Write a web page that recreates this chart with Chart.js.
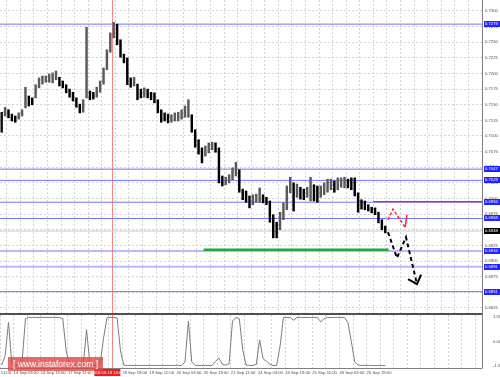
<!DOCTYPE html>
<html><head><meta charset="utf-8">
<script src="https://cdn.jsdelivr.net/npm/chart.js@4"></script>
<style>
html,body{margin:0;padding:0;background:#fff;}
#wrap{position:relative;width:500px;height:377px;overflow:hidden;background:#fff;}
#c1{position:absolute;left:0;top:0;}
#c2{position:absolute;left:0;top:313px;}
#wm{position:absolute;left:8px;top:357px;width:95px;height:14px;background:rgba(222,70,70,0.8);color:#fff;font:8.5px "Liberation Sans",Arial,sans-serif;line-height:14px;text-align:center;white-space:nowrap;}
</style></head>
<body><div id="wrap">
<canvas id="c1" width="500" height="313"></canvas>
<canvas id="c2" width="500" height="64"></canvas>
<div id="wm">[ www.instaforex.com ]</div>
</div>
<script>
// ---- data (2-hour buckets, hour index from chart start) ----
const highs = [0.7138,0.7146,0.7142,0.7135,0.7132,0.7137,0.7142,0.7178,0.7164,0.7161,
0.7182,0.7193,0.7196,0.7196,0.7199,0.7201,0.7204,0.7194,0.7188,0.7182,
0.7175,0.7170,0.7161,0.7151,0.7158,0.7274,0.7172,0.7170,0.7178,0.7188,
0.7209,0.7238,0.7265,0.7282,0.7279,0.7254,0.7231,0.7225,0.7193,0.7194,
0.7183,0.7175,0.7177,0.7175,0.7170,0.7169,0.7158,0.7142,0.7137,0.7135,
0.7134,0.7137,0.7138,0.7142,0.7148,0.7158,0.7134,0.7110,0.7094,0.7081,
0.7084,0.7089,0.7090,0.7089,0.7081,0.7036,0.7034,0.7038,0.7049,0.7058,
0.7046,0.7015,0.7012,0.7004,0.7006,0.7007,0.7017,0.7006,0.7002,0.6996,
0.6974,0.6962,0.6978,0.6993,0.7020,0.7034,0.7025,0.7023,0.7018,0.7015,
0.7018,0.7034,0.7022,0.7020,0.7020,0.7025,0.7031,0.7031,0.7028,0.7033,
0.7033,0.7034,0.7031,0.7033,0.7033,0.7009,0.6998,0.6996,0.6990,0.6986,
0.6985,0.6978,0.6966,0.6956];
const lows = [0.7106,0.7132,0.7129,0.7124,0.7122,0.7127,0.7132,0.7145,0.7148,0.7150,
0.7161,0.7177,0.7183,0.7186,0.7186,0.7185,0.7190,0.7180,0.7177,0.7169,
0.7162,0.7156,0.7146,0.7137,0.7138,0.7161,0.7158,0.7159,0.7162,0.7170,
0.7183,0.7206,0.7234,0.7257,0.7246,0.7226,0.7217,0.7182,0.7178,0.7180,
0.7158,0.7161,0.7162,0.7161,0.7158,0.7153,0.7137,0.7122,0.7124,0.7121,
0.7122,0.7124,0.7124,0.7127,0.7130,0.7130,0.7106,0.7082,0.7071,0.7057,
0.7068,0.7073,0.7078,0.7074,0.7025,0.7020,0.7022,0.7025,0.7030,0.7036,
0.7010,0.6998,0.6994,0.6985,0.6990,0.6994,0.6994,0.6993,0.6990,0.6962,
0.6937,0.6937,0.6950,0.6966,0.6982,0.7009,0.6980,0.7002,0.6999,0.6998,
0.7002,0.6996,0.6996,0.6994,0.7002,0.7006,0.7010,0.7014,0.7010,0.7014,
0.7018,0.7017,0.7017,0.7014,0.7004,0.6978,0.6983,0.6982,0.6980,0.6977,
0.6974,0.6961,0.6950,0.6945];
const osc = [-1.50,-0.90,1.22,-1.45,-1.52,-1.52,-1.30,1.45,1.53,1.53,
1.53,1.52,1.53,1.53,1.52,1.53,1.53,1.52,1.45,-0.60,
-1.50,-1.52,-1.52,-1.52,-1.52,0.75,-1.45,-1.52,-1.52,-1.45,
0.20,1.50,1.53,1.53,1.50,-0.60,-1.50,-1.52,-1.52,-1.52,
-1.52,-1.52,-1.52,-1.52,-1.52,-1.52,-1.52,-1.52,-1.52,-1.52,
-1.52,-1.52,-1.52,-1.52,-1.30,1.30,-1.30,-1.52,-1.52,-1.52,
-1.52,-1.52,-1.52,-1.25,-1.05,-1.45,-1.50,-1.40,1.30,1.53,
1.45,-0.50,-1.50,-1.52,-1.52,-1.45,0.10,-1.10,-1.25,-1.45,
-1.52,-1.52,-0.30,1.52,1.53,1.52,1.35,1.52,1.53,1.52,
1.53,1.52,1.53,1.52,1.25,1.45,1.53,1.52,1.53,1.53,
1.52,1.53,1.20,0.00,-1.30,-1.50,-1.52,-1.52,-1.52,-1.52,
-1.53,-1.52,-1.53,-1.52];

const levels = [0.7279, 0.7047, 0.7029, 0.6994, 0.6968, 0.6916, 0.6851];
const softLevel = 0.6891;
const currentPrice = 0.6948;
const redLevel = {from: 220, to: 284, value: 0.6995};
const greenLevel = {from: 120, to: 229, value: 0.6918};
const redArrow = [[228.6,0.6966],[231.6,0.6983],[238.7,0.6954]];
const redArrowHead = [[239.8,0.6974],[238.7,0.6954]];
const blackArrow = [[228.6,0.6946],[233.9,0.6905],[239.2,0.6938],[245.7,0.6863]];
const blackArrowHead = [[240.4,0.6871],[245.7,0.6863],[248.1,0.6878]];

const priceTicks = [0.7300,0.7275,0.7250,0.7225,0.7200,0.7175,0.7150,0.7125,0.7100,0.7075,
0.7050,0.7025,0.7000,0.6975,0.6950,0.6925,0.6900,0.6875,0.6850,0.6825];
const oscTicks = [1.5556, 0, -1.5556];
const labelHours = [-8,8,24,40,56,72,88,104,120,136,152,168,184,200,216];
const timeLabels = ['13 Sep 11:00','14 Sep 03:00','14 Sep 19:00','17 Sep 11:00','18 Sep 03:00','18 Sep 19:00',
'19 Sep 11:00','20 Sep 03:00','20 Sep 19:00','21 Sep 11:00','24 Sep 03:00','24 Sep 19:00','25 Sep 11:00',
'26 Sep 03:00','26 Sep 19:00'];
const markerHour = 66.2;
const markerLabel = '2018.09.18 13:00';

// ---- build ----
const FONT = '"Liberation Sans", Arial, sans-serif';
Chart.defaults.font.family = FONT;
const hourOf = i => 2*i + 1;
const gridHours = []; for (let h = 0; h <= 280; h += 8) gridHours.push(h);
const pts = arr => arr.map(p => ({x:p[0], y:p[1]}));
const hline = (v, a, b) => [{x:a, y:v}, {x:b, y:v}];
const noPad = s => { s.paddingLeft = 0; s.paddingRight = 0; s.paddingTop = 0; s.paddingBottom = 0; };

const barData = highs.map((h,i) => ({x: hourOf(i), y: [lows[i], h]}));
const barColors = highs.map((h,i) => {
  if (i === 0) return '#111';
  const m = (h + lows[i]) / 2, pm = (highs[i-1] + lows[i-1]) / 2;
  return m >= pm ? '#5a5a5a' : '#000';
});

const gridStyle = {color:'#d2d2d2', drawTicks:false, lineWidth:1};
const tickFont = {size:4.2, family:FONT};

const datasets = [
  {type:'bar', data: barData, backgroundColor: barColors, barThickness:1.8, order:1},
  {type:'line', data: hline(currentPrice,0,284), borderColor:'#c9c9c9', borderWidth:1, pointRadius:0, order:4},
  {type:'line', data: hline(softLevel,0,284), borderColor:'rgba(125,125,255,0.55)', borderWidth:2, pointRadius:0, order:3},
  ...levels.map(v => ({type:'line', data: hline(v,0,284), borderColor:'#7474ff', borderWidth:1, pointRadius:0, order:3})),
  {type:'line', data: hline(redLevel.value, redLevel.from, redLevel.to), borderColor:'#e5283a', borderWidth:1.4, pointRadius:0, order:2},
  {type:'line', data: hline(greenLevel.value, greenLevel.from, greenLevel.to), borderColor:'#26a546', borderWidth:2.5, pointRadius:0, order:2},
  {type:'line', data: pts(redArrow), borderColor:'#ee2a2a', borderWidth:1.5, borderDash:[3,2], pointRadius:0, order:0},
  {type:'line', data: pts(redArrowHead), borderColor:'#ee2a2a', borderWidth:1.5, pointRadius:0, order:0},
  {type:'line', data: pts(blackArrow), borderColor:'#000', borderWidth:2, borderDash:[4,3], pointRadius:0, order:0},
  {type:'line', data: pts(blackArrowHead), borderColor:'#000', borderWidth:2, pointRadius:0, order:0},
];

const boxes = [
  ...levels.map(v => [v, '#2323ff']),
  [softLevel, '#2323ff'],
  [currentPrice, '#000000']
];

const overlay1 = {
  id:'overlay1',
  beforeDatasetsDraw(chart){
    const {ctx, chartArea:a, scales:{x}} = chart;
    const rx = Math.round(x.getPixelForValue(markerHour)) + 0.5;
    ctx.save();
    ctx.strokeStyle = '#ff8484'; ctx.lineWidth = 1;
    ctx.beginPath(); ctx.moveTo(rx, a.top); ctx.lineTo(rx, a.bottom); ctx.stroke();
    ctx.restore();
  },
  afterDatasetsDraw(chart){
    const {ctx, chartArea:a, scales:{y}} = chart;
    ctx.save();
    ctx.strokeStyle = '#808080'; ctx.lineWidth = 1;
    ctx.beginPath(); ctx.moveTo(a.right+0.5, a.top); ctx.lineTo(a.right+0.5, a.bottom); ctx.stroke();
    ctx.font = '4.2px ' + FONT;
    ctx.textBaseline = 'middle'; ctx.textAlign = 'left';
    boxes.forEach(([v,c]) => {
      const py = Math.round(y.getPixelForValue(v));
      ctx.fillStyle = c; ctx.fillRect(a.right+2, py-3, 16, 6);
      ctx.fillStyle = '#fff'; ctx.fillText(v.toFixed(4), a.right+3, py);
    });
    ctx.restore();
  }
};

new Chart(document.getElementById('c1'), {
  type:'bar',
  data:{datasets},
  options:{
    responsive:false, animation:false, devicePixelRatio:1,
    layout:{padding:0, autoPadding:false},
    plugins:{legend:{display:false}, tooltip:{enabled:false}},
    scales:{
      x:{type:'linear', min:0, max:284, offset:false,
         afterBuildTicks:s=>{s.ticks = gridHours.map(v=>({value:v}));},
         ticks:{display:false}, grid:gridStyle, border:{display:false, dash:[2,2]},
         afterFit:s=>{s.height = 0; noPad(s);}},
      y:{type:'linear', position:'right', min:0.68168, max:0.73176,
         afterBuildTicks:s=>{s.ticks = priceTicks.map(v=>({value:v}));},
         ticks:{font:tickFont, color:'#4a4a4a', padding:3, autoSkip:false, callback:v=>Number(v).toFixed(4)},
         grid:gridStyle, border:{display:false, dash:[2,2]},
         afterFit:s=>{s.width = 18; noPad(s);}}
    }
  },
  plugins:[overlay1]
});

const overlay2 = {
  id:'overlay2',
  beforeDatasetsDraw(chart){
    const {ctx, chartArea:a, scales:{x}} = chart;
    const rx = Math.round(x.getPixelForValue(markerHour)) + 0.5;
    ctx.save();
    ctx.strokeStyle = '#ff8484'; ctx.lineWidth = 1;
    ctx.beginPath(); ctx.moveTo(rx, 0); ctx.lineTo(rx, a.bottom); ctx.stroke();
    ctx.restore();
  },
  afterDraw(chart){
    const {ctx, chartArea:a, scales:{x}} = chart;
    ctx.save();
    ctx.fillStyle = '#505050'; ctx.fillRect(0, 0, a.right+1, 2);
    ctx.strokeStyle = '#808080'; ctx.lineWidth = 1;
    ctx.beginPath(); ctx.moveTo(a.right+0.5, 0); ctx.lineTo(a.right+0.5, a.bottom); ctx.stroke();
    ctx.beginPath(); ctx.moveTo(0, a.bottom+0.5); ctx.lineTo(a.right+0.5, a.bottom+0.5); ctx.stroke();
    const rx = x.getPixelForValue(markerHour);
    ctx.fillStyle = '#ee1c1c'; ctx.fillRect(rx-18, a.bottom+1, 26, 7);
    ctx.fillStyle = '#fff'; ctx.font = '4.2px ' + FONT;
    ctx.textAlign = 'center'; ctx.textBaseline = 'middle';
    ctx.fillText(markerLabel, rx-5, a.bottom+4.8);
    ctx.restore();
  }
};

new Chart(document.getElementById('c2'), {
  type:'line',
  data:{datasets:[{data: osc.map((v,i)=>({x:hourOf(i), y:v})), borderColor:'#7c7c7c', borderWidth:1, pointRadius:0, tension:0}]},
  options:{
    responsive:false, animation:false, devicePixelRatio:1,
    layout:{padding:{top:2, left:0, right:0, bottom:0}, autoPadding:false},
    plugins:{legend:{display:false}, tooltip:{enabled:false}},
    scales:{
      x:{type:'linear', min:0, max:284, offset:false,
         afterBuildTicks:s=>{s.ticks = [-8, ...gridHours].map(v=>({value:v}));},
         ticks:{font:tickFont, color:'#4a4a4a', align:'start', padding:2, autoSkip:false, maxRotation:0,
                callback:v=>{const k = labelHours.indexOf(v); return k >= 0 ? timeLabels[k] : '';}},
         grid:gridStyle, border:{display:false, dash:[2,2]},
         afterFit:s=>{s.height = 9; noPad(s);}},
      y:{type:'linear', position:'right', min:-1.6826, max:1.6826,
         afterBuildTicks:s=>{s.ticks = oscTicks.map(v=>({value:v}));},
         ticks:{font:tickFont, color:'#4a4a4a', padding:3, autoSkip:false, callback:v=> v === 0 ? '0.00' : Number(v).toFixed(4)},
         grid:{display:false}, border:{display:false},
         afterFit:s=>{s.width = 18; noPad(s);}}
    }
  },
  plugins:[overlay2]
});
</script>
</body></html>
